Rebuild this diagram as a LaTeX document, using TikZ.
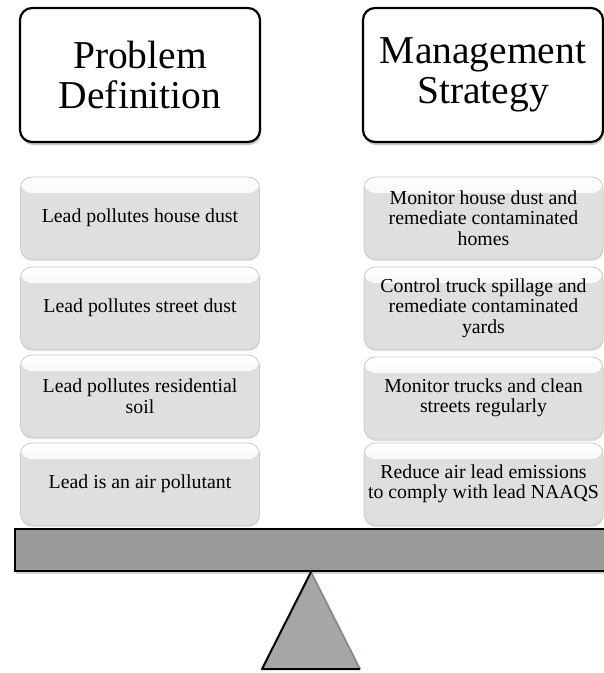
\documentclass[tikz,border=0pt]{standalone}
\usepackage{fontspec}
\setmainfont{Liberation Serif}
\usetikzlibrary{shadows}

\definecolor{itemgray}{HTML}{DFDFDF}
\definecolor{itemedge}{HTML}{CCCCCC}
\definecolor{beamgray}{HTML}{999999}
\definecolor{pivotgray}{HTML}{A6A6A6}
\definecolor{pivotedge}{HTML}{7E8C9A}

\begin{document}
\begin{tikzpicture}[x=1pt,y=-1pt,
  header/.style={draw=black, line width=2.2pt, rounded corners=12pt, fill=white,
    minimum width=240pt, minimum height=134pt, align=center,
    font=\fontsize{39.5}{40}\selectfont,
    drop shadow={shadow xshift=1pt, shadow yshift=-3pt, opacity=0.45}},
  item/.style={rounded corners=11pt, fill=itemgray, draw=itemedge, line width=0.8pt,
    minimum width=239pt, minimum height=82pt, align=center, inner sep=2pt,
    font=\fontsize{19.8}{20.5}\selectfont,
    drop shadow={shadow xshift=0.5pt, shadow yshift=-2pt, opacity=0.25},
    path picture={
      % glossy band along the top edge
      \shade[top color=white, bottom color=itemgray]
        (path picture bounding box.north west) rectangle
        ([yshift=-16pt]path picture bounding box.north east);
    }},
  beam/.style={draw=black, line width=2pt, fill=beamgray,
    drop shadow={shadow xshift=1pt, shadow yshift=-3pt, opacity=0.35}},
]
\useasboundingbox (0,0) rectangle (604,673);
\clip (0,0) rectangle (604,673);

% column headers
\node[header] (pd) at (140,75) {Problem\\Definition};
\node[header] (ms) at (483,75) {Management\\Strategy};

% problem items
\node[item] (p1) at (140,218) {Lead pollutes house dust};
\node[item] (p2) at (140,308) {Lead pollutes street dust};
\node[item] (p3) at (140,396) {Lead pollutes residential\\soil};
\node[item] (p4) at (140,484) {Lead is an air pollutant};

% strategy items
\node[item] (s1) at (483.5,218) {Monitor house dust and\\remediate contaminated\\homes};
\node[item] (s2) at (483.5,308) {Control truck spillage and\\remediate contaminated\\yards};
\node[item] (s3) at (483.5,398) {Monitor trucks and clean\\streets regularly};
\node[item] (s4) at (483.5,484) {Reduce air lead emissions\\to comply with lead NAAQS};

% balance beam
\node[beam, minimum width=620pt, minimum height=42pt, anchor=north west] (beam) at (14,528) {};

% pivot
\coordinate (apex) at (311,572);
\coordinate (bl) at (262,669);
\coordinate (br) at (360,669);
\fill[pivotgray] (apex) -- (bl) -- (br) -- cycle;
\draw[pivotedge, line width=1.8pt] (apex) -- (br);
\draw[black, line width=2pt, line join=round] (br) -- (bl) -- (apex);
\end{tikzpicture}
\end{document}
